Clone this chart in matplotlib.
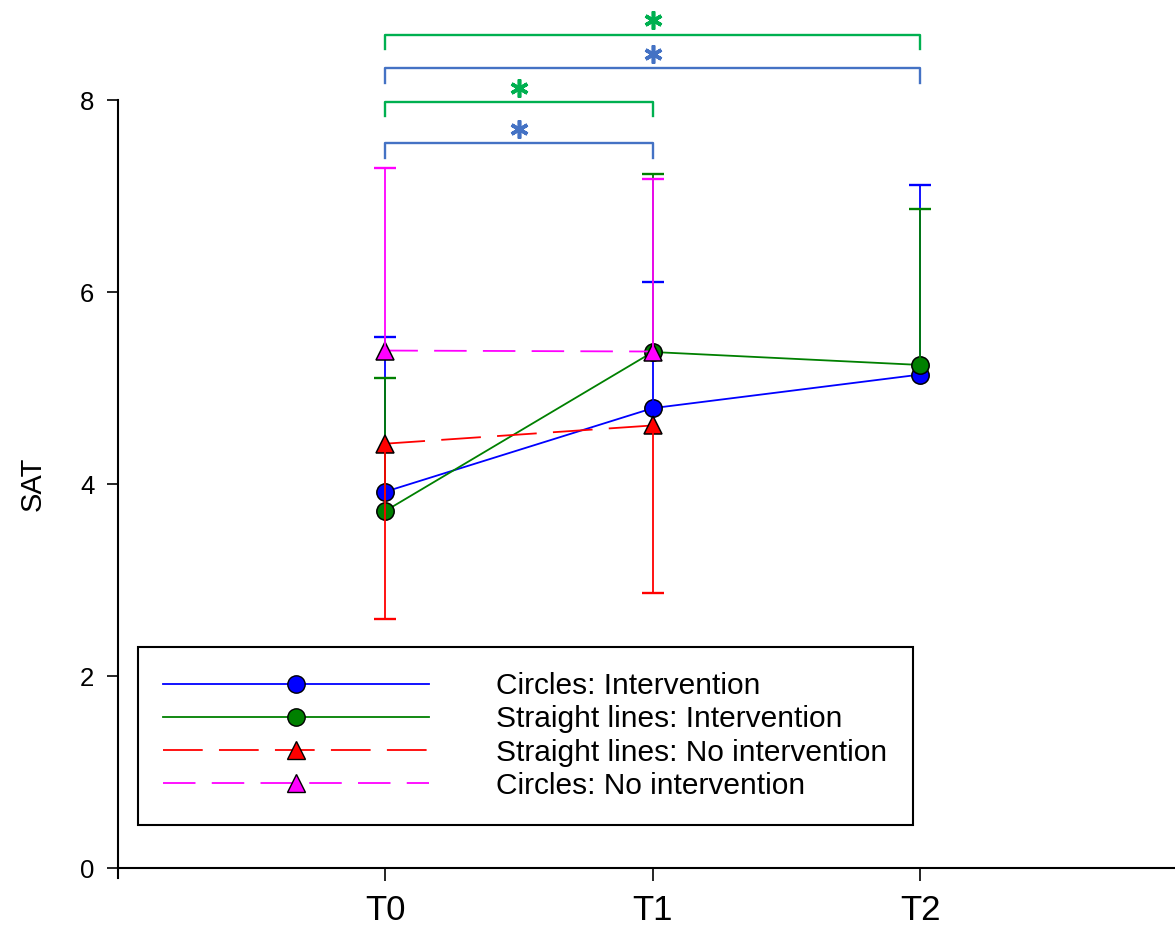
import matplotlib
matplotlib.use("Agg")
import matplotlib.pyplot as plt
from matplotlib.lines import Line2D

plt.rcParams['font.family'] = ['Liberation Sans', 'DejaVu Sans']

# ---- data ----
timepoints = ["T0", "T1", "T2"]
x_all = [0, 1, 2]

blue_mean = [3.92, 4.79, 5.14]
blue_sd = [1.61, 1.31, 1.97]          # upper bars

green_mean = [3.72, 5.375, 5.24]
green_sd = [1.38, 1.855, 1.62]        # upper bars

red_mean = [4.42, 4.61]
red_sd = [1.83, 1.75]                 # lower bars

magenta_mean = [5.39, 5.38]
magenta_sd = [1.90, 1.80]             # upper bars

labels = ["Circles: Intervention", "Straight lines: Intervention",
          "Straight lines: No intervention", "Circles: No intervention"]

# significance brackets: (start, end, height, colour-key)
brackets = [(0, 1, 7.55, "blue"), (0, 1, 7.98, "green"),
            (0, 2, 8.33, "blue"), (0, 2, 8.68, "green")]
bracket_colors = {"blue": "#4472C4", "green": "#00B050"}

# ---- figure ----
fig = plt.figure(figsize=(11.75, 9.27), dpi=100)
ax = fig.add_axes([118 / 1175, 1 - 868 / 927, 1 - 118 / 1175, (868 - 100) / 927])
ax.set_xlim(-1, 2.953)
ax.set_ylim(0, 8)

cap_ms = 16.5   # cap width in points (~23 px)
lw = 1.3


def draw_series(x, mean, sd, color, marker, ls, upper=True):
    ax.plot(x, mean, color=color, lw=lw, ls=ls, marker=marker, ms=12.5,
            mfc=color, mec="black", mew=1.1, zorder=3)
    for xi, m, s in zip(x, mean, sd):
        end = m + s if upper else m - s
        ax.vlines(xi, m, end, color=color, lw=lw, zorder=3)
        ax.plot([xi], [end], marker="_", ms=cap_ms, mew=1.7, color=color,
                ls="none", zorder=3)


draw_series(x_all, blue_mean, blue_sd, "#0000FF", "o", "-")
draw_series(x_all, green_mean, green_sd, "#008000", "o", "-")
draw_series(x_all[:2], red_mean, red_sd, "#FF0000", "^", (0, (22, 9)), upper=False)
draw_series(x_all[:2], magenta_mean, magenta_sd, "#FF00FF", "^", (0, (18, 9)))

# brackets
leg = 0.15
for x0, x1, h, ck in brackets:
    c = bracket_colors[ck]
    ax.plot([x0, x0, x1, x1], [h - leg, h, h, h - leg], color=c, lw=1.7,
            clip_on=False, zorder=4, solid_joinstyle="round")
    ax.plot([(x0 + x1) / 2], [h + 0.15], marker=(6, 2, 0), ms=13, mew=2.6,
            color=c, clip_on=False, ls="none", zorder=4)

# axes styling
for s in ["top", "right"]:
    ax.spines[s].set_visible(False)
ax.spines["left"].set_linewidth(1.5)
ax.spines["bottom"].set_linewidth(1.5)
ax.spines["left"].set_bounds(-0.1, 8)
ax.set_xticks(x_all)
ax.set_xticklabels(timepoints, fontsize=25)
ax.set_yticks([0, 2, 4, 6, 8])
ax.tick_params(axis="y", direction="out", length=8, width=1.2, labelsize=18.5, pad=9)
ax.tick_params(axis="x", direction="out", length=9, width=1.2, pad=10)
ax.set_ylabel("SAT", fontsize=21, labelpad=24)

# legend
handles = [
    Line2D([], [], color="#0000FF", lw=lw, marker="o", ms=12.5, mfc="#0000FF", mec="black"),
    Line2D([], [], color="#008000", lw=lw, marker="o", ms=12.5, mfc="#008000", mec="black"),
    Line2D([], [], color="#FF0000", lw=lw, ls=(0, (22, 9)), marker="^", ms=12.5, mfc="#FF0000", mec="black"),
    Line2D([], [], color="#FF00FF", lw=lw, ls=(0, (18, 9)), marker="^", ms=12.5, mfc="#FF00FF", mec="black"),
]
lg = ax.legend(handles, labels, loc="upper left",
               bbox_to_anchor=(138 / 1175, 1 - 647 / 927), bbox_transform=fig.transFigure,
               borderaxespad=0, fontsize=21.5, handlelength=8.9, handletextpad=2.25,
               borderpad=0.85, labelspacing=0.17, numpoints=1, fancybox=False,
               framealpha=1, edgecolor="black")
lg.get_frame().set_linewidth(1.5)

fig.savefig("out.png", dpi=100)
